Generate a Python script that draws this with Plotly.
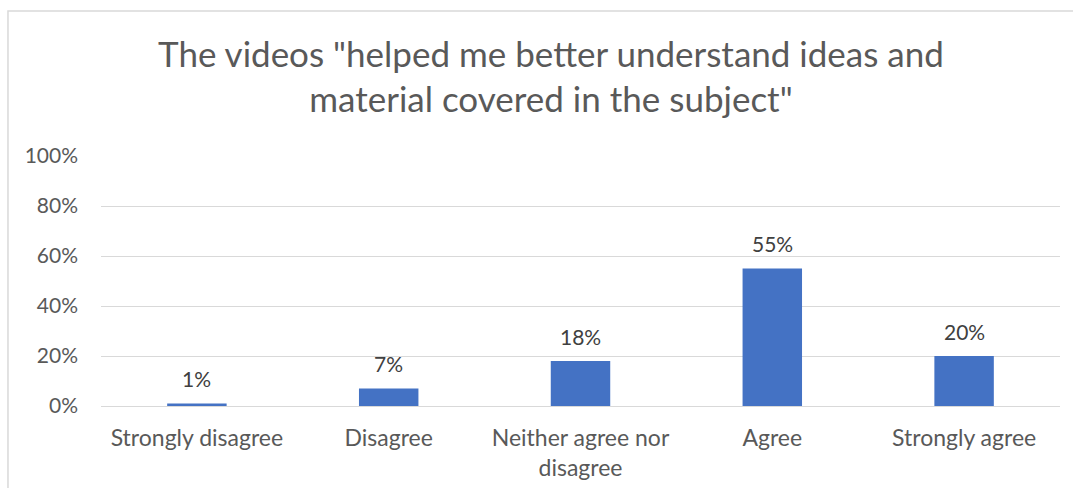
import plotly.graph_objects as go

categories = ["Strongly disagree", "Disagree", "Neither agree nor<br>disagree", "Agree", "Strongly agree"]
values = [1, 7, 18, 55, 20]
tick_values = [0, 20, 40, 60, 80, 100]
tick_labels = ["0%", "20%", "40%", "60%", "80%", "100%"]
title_text = 'The videos "helped me better understand ideas and<br>material covered in the subject"'

FONT = "Lato"

fig = go.Figure(
    go.Bar(
        x=categories,
        y=values,
        marker=dict(color="#4472C4", line=dict(width=0)),
        width=0.31,
    )
)

# value labels placed above each bar
for cat, v in zip(categories, values):
    fig.add_annotation(
        x=cat,
        y=v,
        xref="x",
        yref="y",
        text=f"{v}%",
        showarrow=False,
        yanchor="middle",
        yshift=25,
        font=dict(family=FONT, size=21, color="#404040"),
    )

fig.update_layout(
    width=1073,
    height=488,
    margin=dict(l=101, r=13, t=156, b=82, autoexpand=False),
    paper_bgcolor="white",
    plot_bgcolor="white",
    showlegend=False,
    title=dict(
        text=title_text,
        x=0.5135,
        xanchor="center",
        xref="container",
        y=0.863,
        yanchor="middle",
        font=dict(family=FONT, size=35, color="#595959"),
    ),
    xaxis=dict(
        showgrid=False,
        showline=False,
        ticks="",
        automargin=False,
        ticklabelstandoff=16,
        tickfont=dict(family=FONT, size=23, color="#595959"),
    ),
    yaxis=dict(
        range=[0, 100],
        tickvals=tick_values,
        ticktext=tick_labels,
        showgrid=True,
        gridcolor="#D9D9D9",
        gridwidth=1,
        zeroline=True,
        zerolinecolor="#D9D9D9",
        zerolinewidth=1,
        showline=False,
        ticks="",
        automargin=False,
        ticklabelstandoff=22,
        tickfont=dict(family=FONT, size=21, color="#595959"),
    ),
    bargap=0.69,
    shapes=[
        dict(
            type="rect",
            xref="paper",
            yref="paper",
            x0=-0.097,
            x1=1.05,
            y0=-0.4,
            y1=1.58,
            line=dict(color="#D9D9D9", width=1.5),
            fillcolor="rgba(0,0,0,0)",
            layer="below",
        )
    ],
)

fig.write_html("out.html")
